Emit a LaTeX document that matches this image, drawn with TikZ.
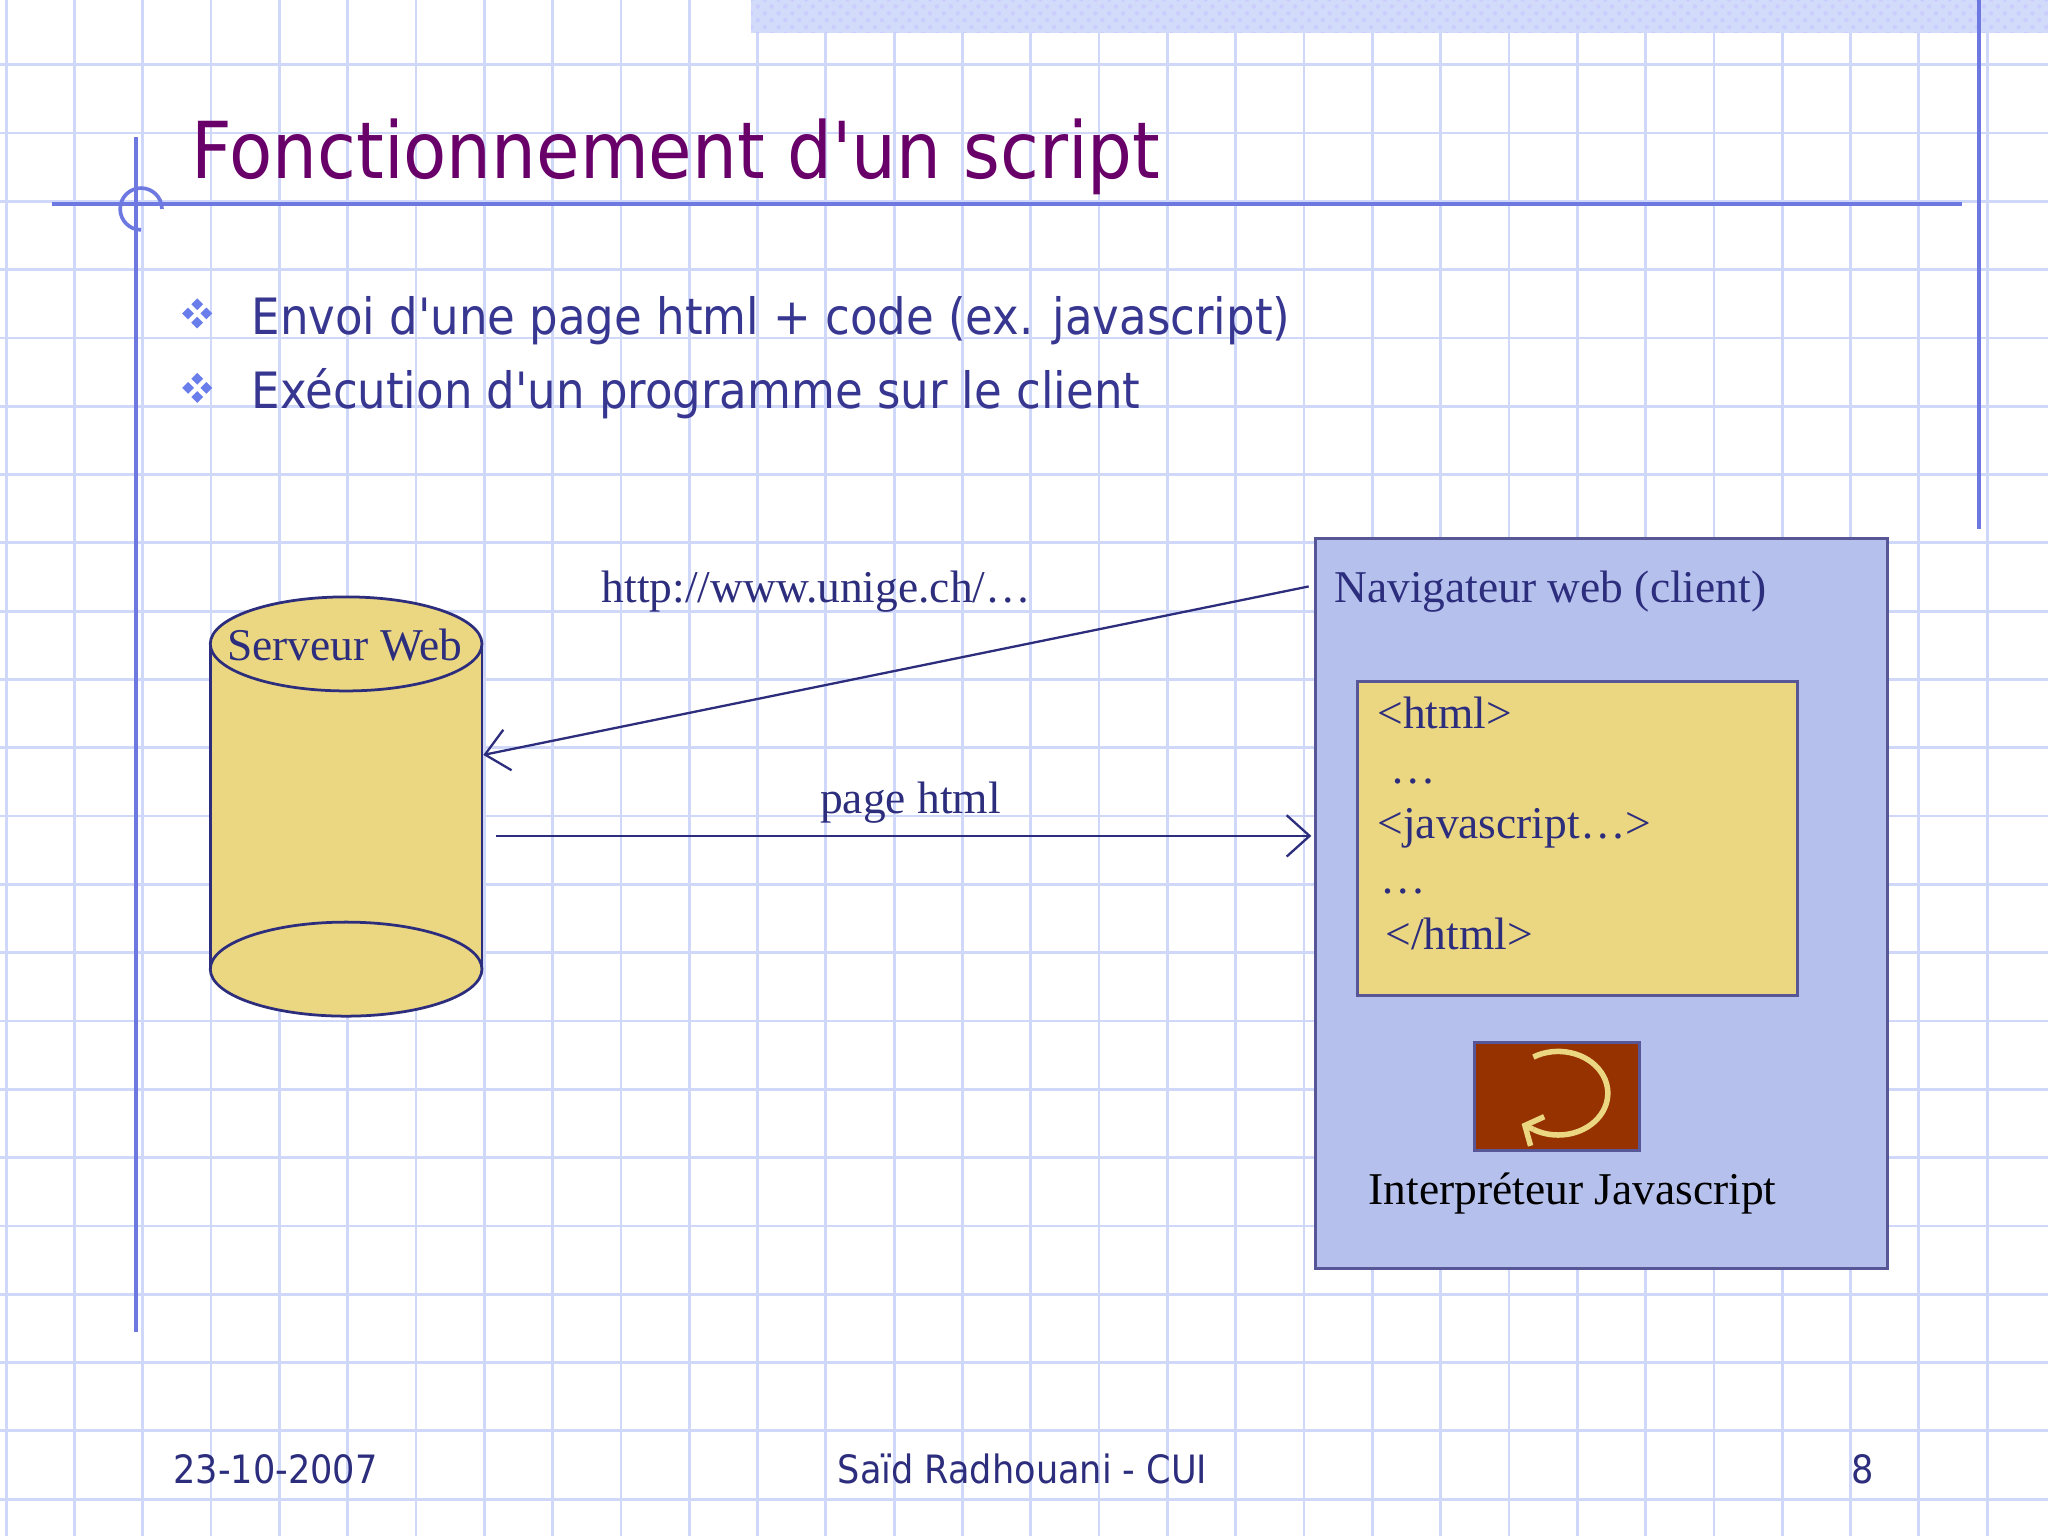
\documentclass[tikz,border=0pt]{standalone}
\usepackage{fontspec}
\setmainfont{Liberation Serif}
\newfontfamily\sans{DejaVu Sans Condensed}
\usetikzlibrary{arrows.meta,patterns}
\definecolor{gridc}{RGB}{208,216,250}
\definecolor{framec}{RGB}{110,120,225}
\definecolor{titlec}{RGB}{105,0,105}
\definecolor{bulc}{RGB}{55,55,145}
\definecolor{diac}{RGB}{105,125,235}
\definecolor{ink}{RGB}{45,45,125}
\definecolor{yel}{RGB}{235,215,130}
\definecolor{lav}{RGB}{182,192,236}
\definecolor{rust}{RGB}{150,50,0}
\definecolor{bandc}{RGB}{210,220,250}
\tikzset{
  serif/.style={font=\fontsize{9.9pt}{12pt}\selectfont, text=ink, inner sep=0pt},
  bullet/.style={font=\sans\fontsize{10.9pt}{13pt}\selectfont, text=bulc, anchor=west, inner sep=0pt},
  foot/.style={font=\sans\fontsize{8.5pt}{11pt}\selectfont, text=ink, inner sep=0pt},
  arr/.style={draw=ink, line width=0.5pt, -{Straight Barb[length=5pt,width=9pt]}},
}
\newcommand{\mydiamonds}[2]{%
  \foreach \dx/\dy in {0/-7,-7/0,7/0,0/7}{
    \fill[diac] (#1+\dx,#2+\dy-4.5) -- (#1+\dx+4.5,#2+\dy) -- (#1+\dx,#2+\dy+4.5) -- (#1+\dx-4.5,#2+\dy) -- cycle;}}
\begin{document}
\begin{tikzpicture}[x=0.01cm,y=-0.01cm]
\useasboundingbox (0,0) rectangle (1568,1176);
\fill[white] (0,0) rectangle (1568,1176);
% grid
\foreach \i in {0,...,30} \draw[gridc, line width=0.6pt] ({4.7+52.3*\i},0) -- ({4.7+52.3*\i},1176);
\foreach \j in {0,...,22} \draw[gridc, line width=0.6pt] (0,{49.5+52.3*\j}) -- (1568,{49.5+52.3*\j});
% hatched band
\fill[bandc] (575,0) rectangle (1568,25);
\fill[pattern=crosshatch dots, pattern color=gridc!60!blue!40] (575,0) rectangle (1568,25);
% frame lines
\draw[framec, line width=0.8pt] (104,105) -- (104,1020);
\draw[framec, line width=0.8pt] (40,156) -- (1502,156);
\draw[framec, line width=0.8pt] (1515,0) -- (1515,405);
\draw[framec, line width=0.8pt] (124,160) arc[start angle=0,end angle=-270,radius=16];
% title
\node[anchor=base west, inner sep=0pt, text=titlec, font=\sans\fontsize{17.1pt}{22pt}\selectfont] (title) at (146,137) {Fonctionnement d'un script};
\mydiamonds{151}{240}
\mydiamonds{151}{297}
\node[bullet, anchor=base west] (b1) at (192,256) {Envoi d'une page html + code (ex. javascript)};
\node[bullet, anchor=base west] (b2) at (192,313) {Exécution d'un programme sur le client};
% cylinder
\fill[yel] (265,742) ellipse[x radius=104, y radius=36];
\fill[yel] (161,493) rectangle (369,742);
\draw[ink, line width=0.6pt] (265,742) ellipse[x radius=104, y radius=36];
\draw[ink, line width=0.6pt] (161,493) -- (161,742) (369,493) -- (369,742);
\draw[fill=yel, draw=ink, line width=0.6pt] (265,493) ellipse[x radius=104, y radius=36];
\node[serif] (srv) at (264,494) {Serveur Web};
\coordinate (srvin) at (370,578);
\coordinate (srvout) at (380,640);
% browser
\node[draw=ink!80, fill=lav, line width=0.6pt, minimum width=438*0.01cm, minimum height=559*0.01cm, anchor=north west, inner sep=0pt] (nav) at (1006,411) {};
\node[serif, anchor=base west] (navt) at (1021,461) {Navigateur web (client)};
\node[draw=ink!80, fill=yel, line width=0.6pt, minimum width=337*0.01cm, minimum height=240*0.01cm, anchor=north west, inner sep=0pt] (code) at (1038,521) {};
\node[serif, anchor=base west] (c1) at (1054,558) {<html>};
\node[serif, anchor=base west] (c2) at (1064,600) {\dots};
\node[serif, anchor=base west] (c3) at (1054,642) {<javascript\dots>};
\node[serif, anchor=base west] (c4) at (1056,684) {\dots};
\node[serif, anchor=base west] (c5) at (1060,727) {</html>};
\node[draw=ink!80, fill=rust, line width=0.6pt, minimum width=126*0.01cm, minimum height=83*0.01cm, anchor=north west, inner sep=0pt] (icon) at (1128,797) {};
\draw[yel, line width=1.2pt] (1193,837) ++(240:38 and 32) arc[start angle=240,end angle=480,x radius=38, y radius=32];
\draw[yel, line width=1.2pt, -{Straight Barb[length=3pt,width=7pt]}] (1174,864.7) -- (1165,860.5);
\node[serif, text=black, anchor=base] (interp) at (1204,922) {Interpréteur Javascript};
% arrows
\coordinate (navin) at (1004,640);
\coordinate (navout) at (1002,449);
\draw[arr] (navout) -- (srvin);
\draw[arr] (srvout) -- (navin);
\node[serif, anchor=base] (url) at (625,461) {http://www.unige.ch/\dots};
\node[serif, anchor=base] (ph) at (697,623) {page html};
% footer
\node[foot, anchor=base] (f1) at (211,1136) {23-10-2007};
\node[foot, anchor=base] (f2) at (783,1136) {Saïd Radhouani - CUI};
\node[foot, anchor=base] (f3) at (1426,1136) {8};
\end{tikzpicture}
\end{document}
